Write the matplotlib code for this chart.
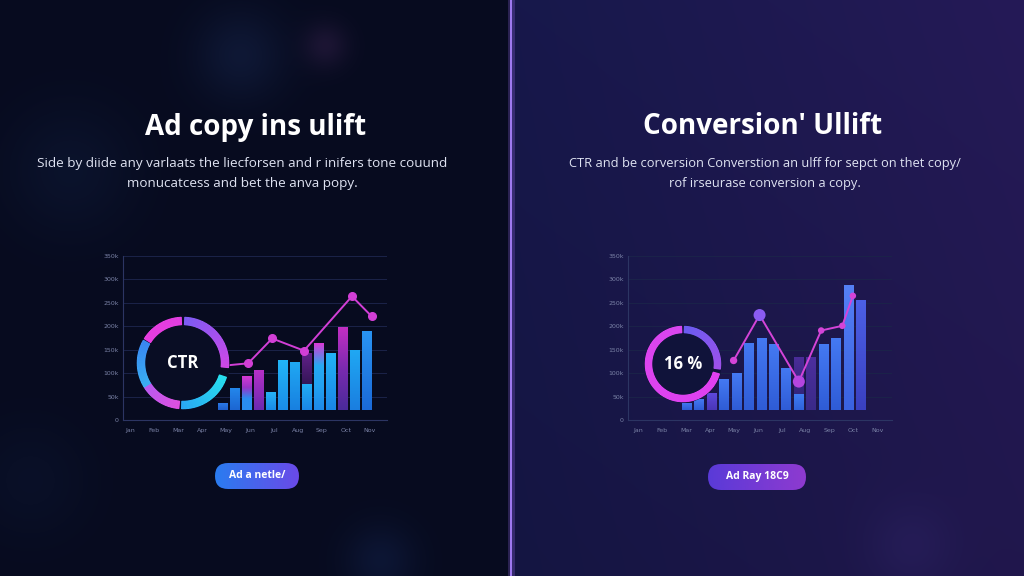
import numpy as np
import matplotlib
matplotlib.use('Agg')
import matplotlib.pyplot as plt
from matplotlib.patches import Wedge, Circle, FancyBboxPatch
from matplotlib.colors import to_rgb

W, H = 1024, 576

# ---- text ----
left_title = 'Ad copy ins ulift'
left_sub = ['Side by diide any varlaats the liecforsen and r inifers tone couund',
            'monucatcess and bet the anva popy.']
right_title = "Conversion' Ullift"
right_sub = ['CTR and be corversion Converstion an ulff for sepct on thet copy/',
             'rof irseurase conversion a copy.']
left_button = 'Ad a netle/'
right_button = 'Ad Ray 18C9'
left_ring_label = 'CTR'
right_ring_label = '16 %'

# ---- axis ticks ----
y_ticks = [0, 50, 100, 150, 200, 250, 300, 350]
y_labels = ['0', '50k', '100k', '150k', '200k', '250k', '300k', '350k']
x_labels = ['Jan', 'Feb', 'Mar', 'Apr', 'May', 'Jun', 'Jul', 'Aug', 'Sep', 'Oct', 'Nov']

# ---- left chart (CTR) ----
left_bars = [36, 69, 93, 107, 59, 129, 124, 77, 164, 143, 198, 150, 191]
left_ghost = {7: 143}
left_line_x = [0.1, 2.1, 4.1, 6.75, 10.75, 12.4]
left_line_y = [116, 121, 174, 148, 264, 221]

# ---- right chart (conversion) ----
right_bars = [37, 44, 58, 87, 100, 165, 174, 162, 112, 55, 135, 162, 174, 289, 257]
right_ghost = {9: 135}
right_line_x = [3.75, 5.84, 9.0, 10.8, 12.5, 13.35]
right_line_y = [127, 224, 82, 191, 201, 265]

BASE = 22  # bars float a little above the axis

left_cols = [['#2a78e6', '#1f5fcc'], ['#2488ec', '#1c66d2'],
             ['#d43ad4', '#9a34c8', '#2a8ef0', '#2a8ef0'], ['#b830c8', '#6a2ab0'],
             ['#26b2f6', '#1a8ae6'], ['#22b6f7', '#1a8ce8'], ['#20a8f3', '#1880e0'],
             ['#22acf3', '#1a86e6'], ['#d83ad6', '#26aaf3', '#22a0f0', '#1e88e8'],
             ['#22b2f6', '#1a86e6'], ['#c22fc2', '#7a2ab0', '#4a2a9a'],
             ['#20a8f3', '#1a7ee0'], ['#2994f2', '#1b6ad8']]
blue = ['#4479f2', '#2f5cd6']
right_cols = [blue, blue, ['#5d48dc', '#4a36b8'], blue, blue, blue, blue, blue, blue,
              ['#3f7cf2', '#2f62da'], ['#4d2f9e', '#3a2a88'], blue, blue,
              ['#5580f6', '#3a62e0'], ['#4c60e6', '#3a40c0']]


def grad_img(stops, n=64, horizontal=False):
    cols = np.array([to_rgb(c) for c in stops])
    t = np.linspace(0, 1, len(stops))
    s = np.linspace(0, 1, n)
    g = np.stack([np.interp(s, t, cols[:, k]) for k in range(3)], axis=-1)
    return g[None, :, :] if horizontal else g[:, None, :]


def grad_bar(ax, x, top, bottom, width, stops, z=2):
    bar = ax.bar(x, top - bottom, width, bottom=bottom, color='none', lw=0)[0]
    im = ax.imshow(grad_img(stops), extent=(x - width / 2, x + width / 2, bottom, top),
                   aspect='auto', origin='upper', zorder=z)
    im.set_clip_path(bar)


def chart(px0, py0, px1, py1, bars, cols, ghost, ghost_cols, xlim, xt0, xstep):
    ax = fig.add_axes([px0 / W, 1 - py1 / H, (px1 - px0) / W, (py1 - py0) / H], zorder=1)
    ax.set_facecolor('none')
    for i, v in enumerate(bars):
        if i in ghost:
            grad_bar(ax, i, ghost[i], BASE, 0.8, ghost_cols, z=1.5)
        grad_bar(ax, i, v, BASE, 0.8, cols[i])
    ax.set_xlim(*xlim)
    ax.set_ylim(0, 350)
    ax.set_yticks(y_ticks)
    ax.set_yticklabels(y_labels)
    ax.set_xticks([xt0 + xstep * k for k in range(len(x_labels))])
    ax.set_xticklabels(x_labels)
    ax.tick_params(length=0, labelsize=4.5, labelcolor='#7a82a6')
    ax.tick_params(axis='y', pad=3)
    ax.tick_params(axis='x', pad=6)
    for s in ['top', 'right']:
        ax.spines[s].set_visible(False)
    for s in ['left', 'bottom']:
        ax.spines[s].set_color('#2c3563')
        ax.spines[s].set_linewidth(0.8)
    ax.grid(axis='y', color='#1b2349', lw=0.7)
    ax.set_axisbelow(True)
    return ax


def ring(ax, cx, cy, r, w, segs, inner, label, fs):
    cy = H - cy
    ax.add_patch(Circle((cx, cy), r, color=inner, zorder=1))
    for a0, a1, c0, c1 in segs:
        n = max(int(abs(a1 - a0) / 2), 2)
        e = np.linspace(a0, a1, n + 1)
        c0, c1 = np.array(to_rgb(c0)), np.array(to_rgb(c1))
        for k in range(n):
            f = (k + 0.5) / n
            col = c0 * (1 - f) + c1 * f
            ax.add_patch(Wedge((cx, cy), r - 0.3, e[k] + 0.2, e[k + 1] - 0.2, width=w - 0.6,
                               fc=col, ec=col, lw=0.8, zorder=3))
    ax.text(cx, cy, label, color='white', fontsize=fs, fontweight='bold',
            ha='center', va='center', family='Open Sans', zorder=4)


def button(ax, x0, y0, w, h, c0, c1, label):
    y0 = H - y0 - h
    box = FancyBboxPatch((x0, y0), w, h, boxstyle=f'round,pad=0,rounding_size={h / 2}',
                         lw=0, fc='none')
    ax.add_patch(box)
    im = ax.imshow(grad_img([c0, c1], horizontal=True), extent=(x0, x0 + w, y0, y0 + h),
                   aspect='auto', zorder=3)
    im.set_clip_path(box)
    ax.text(x0 + w / 2, y0 + h / 2, label, color='white', fontsize=7.5, fontweight='bold',
            ha='center', va='center', family='Open Sans', zorder=4)


fig = plt.figure(figsize=(W / 100, H / 100), dpi=100)

# background
bgax = fig.add_axes([0, 0, 1, 1], zorder=0)
yy, xx = np.mgrid[0:H, 0:W].astype(float)
bg = np.zeros((H, W, 3)) + np.array(to_rgb('#070b1f'))
rmask = xx >= 512
t = np.clip((xx - 512) / 512, 0, 1)
c_a, c_b = np.array(to_rgb('#17184b')), np.array(to_rgb('#251a57'))
rbg = c_a[None, None, :] * (1 - t[..., None]) + c_b[None, None, :] * t[..., None]
rbg *= (1 - 0.12 * (yy / H))[..., None]
bg[rmask] = rbg[rmask]
for bx, by, br, bc, ba in [(240, 55, 32, '#16244a', 0.5), (325, 45, 16, '#3a2350', 0.4),
                           (70, 170, 45, '#0f1a38', 0.5), (380, 560, 25, '#122048', 0.5),
                           (30, 480, 40, '#0d1734', 0.4), (910, 545, 30, '#2e2466', 0.4)]:
    g = np.exp(-((xx - bx) ** 2 + (yy - by) ** 2) / (2 * br ** 2))[..., None] * ba
    bg = bg * (1 - g) + np.array(to_rgb(bc)) * g
bgax.imshow(bg, extent=(0, W, 0, H), origin='upper', aspect='auto')
bgax.axvline(511, color='#9a6cf0', lw=5, alpha=0.25)
bgax.axvline(511, color='#a27cf4', lw=1.4)
bgax.set_xlim(0, W)
bgax.set_ylim(0, H)
bgax.axis('off')

axl = chart(123, 256, 387, 420, left_bars, left_cols, left_ghost, ['#62208a', '#0c0e2a'],
            (-8.33, 13.67), -7.75, 2.0)
axl.plot(left_line_x, left_line_y, color='#d23fd6', lw=1.4, marker='o', ms=5.5, zorder=4)

axr = chart(628, 256, 892, 420, right_bars, right_cols, right_ghost, ['#4a2d98', '#2a2270'],
            (-4.75, 16.5), -3.9, 1.92)
axr.plot(right_line_x, right_line_y, color='#d444d8', lw=1.4, zorder=4)
axr.scatter(right_line_x, right_line_y, s=[28, 75, 75, 22, 22, 22],
            c=['#d444d8', '#8a5cf2', '#b545e0', '#d444d8', '#d444d8', '#d444d8'],
            zorder=5, lw=0)

# overlay: titles, rings, buttons
ov = fig.add_axes([0, 0, 1, 1], zorder=2)
ov.set_facecolor('none')
ov.text(256, H - 127, left_title, color='white', fontsize=20, fontweight='bold',
        ha='center', va='center', family='Open Sans')
ov.text(763, H - 127, right_title, color='white', fontsize=20, fontweight='bold',
        ha='center', va='center', family='Open Sans')
for k, line in enumerate(left_sub):
    ov.text(242, H - 164 - 20 * k, line, color='#dfe3f2', fontsize=9.7, ha='center',
            va='center', family='Open Sans')
for k, line in enumerate(right_sub):
    ov.text(765, H - 164 - 20 * k, line, color='#dfe3f2', fontsize=9.3, ha='center',
            va='center', family='Open Sans')

ring(ov, 183, 363, 46, 8,
     [(-148, -95, '#b85cf0', '#e050e0'), (-92, -18, '#2aa8f4', '#28e0f0'),
      (-6, 88, '#d048e8', '#7c5cf4'), (92, 148, '#e23ee0', '#e83ee0'),
      (150, 212, '#3a86f2', '#3ab0f2')],
     '#090d24', left_ring_label, 12)
ring(ov, 683, 364, 38, 7,
     [(-8, 88, '#a050ea', '#6a5cf0'), (92, 345, '#d946ef', '#e040f0')],
     '#10133a', right_ring_label, 12)

button(ov, 215, 463, 84, 26, '#2a7cf0', '#6a4ae8', left_button)
button(ov, 708, 464, 98, 26, '#5a3ad8', '#8e3ad0', right_button)
ov.set_xlim(0, W)
ov.set_ylim(0, H)
ov.axis('off')

fig.savefig('out.png', dpi=100)
